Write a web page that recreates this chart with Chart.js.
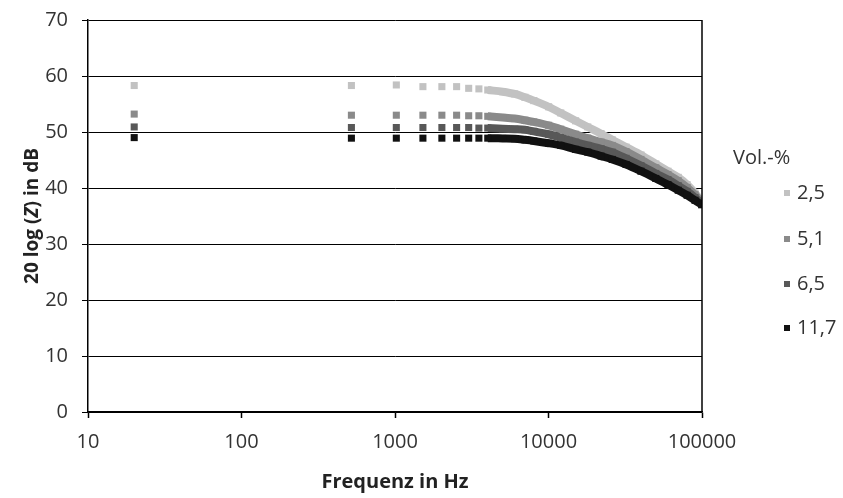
<!DOCTYPE html>
<html>
<head>
<meta charset="utf-8">
<script src="https://cdn.jsdelivr.net/npm/chart.js@4/dist/chart.umd.min.js"></script>
<style>
html,body{margin:0;padding:0;background:#fff;}
#wrap{width:843px;height:498px;}
</style>
</head>
<body>
<div id="wrap"><canvas id="c" width="843" height="498"></canvas></div>
<script>
// Frequencies (Hz)
const frequencies = [20, 520, 1020, 1520, 2020, 2520, 3020, 3520, 4020, 5020, 6020, 7020, 8020, 10020, 12020, 15020, 18020, 22020, 26020, 32020, 40020, 50020, 60020, 70020, 80020, 90020, 99520];
// 20 log(Z) in dB per Vol.-%
const vol25  = [58.3, 58.3, 58.4, 58.1, 58.1, 58.1, 57.8, 57.7, 57.5, 57.2, 56.8, 56.2, 55.6, 54.5, 53.4, 52.0, 50.9, 49.7, 48.6, 47.3, 45.9, 44.3, 43.0, 41.9, 40.6, 39.1, 37.5];
const vol51  = [53.2, 53.0, 53.0, 53.0, 53.0, 53.0, 52.9, 52.9, 52.8, 52.6, 52.4, 52.1, 51.8, 51.2, 50.5, 49.6, 48.9, 48.2, 47.6, 46.5, 45.1, 43.6, 42.4, 41.3, 40.1, 38.8, 37.3];
const vol65  = [50.9, 50.8, 50.8, 50.8, 50.8, 50.8, 50.8, 50.7, 50.7, 50.6, 50.5, 50.4, 50.1, 49.6, 49.0, 48.2, 47.6, 47.0, 46.4, 45.3, 44.0, 42.6, 41.5, 40.4, 39.4, 38.3, 37.2];
const vol117 = [49.0, 48.9, 48.9, 48.9, 48.9, 48.9, 48.9, 48.9, 48.9, 48.85, 48.8, 48.6, 48.4, 48.0, 47.6, 46.9, 46.4, 45.7, 45.1, 44.2, 43.0, 41.7, 40.6, 39.6, 38.7, 37.8, 37.0];
const seriesLabels = ['2,5', '5,1', '6,5', '11,7'];
const seriesValues = [vol25, vol51, vol65, vol117];
const seriesColors = ['#c2c2c2', '#8a8a8a', '#585858', '#111111'];
const xTicks = [10, 100, 1000, 10000, 100000];
const yTicks = [0, 10, 20, 30, 40, 50, 60, 70];
const legendTitle = 'Vol.-%';

const FONT = "'Open Sans', sans-serif";
const TEXT = '#333333';

const datasets = seriesValues.map((vals, i) => ({
  label: seriesLabels[i],
  data: frequencies.map((f, j) => ({x: f, y: vals[j]})),
  showLine: true,
  borderColor: seriesColors[i],
  backgroundColor: seriesColors[i],
  pointBackgroundColor: seriesColors[i],
  pointBorderWidth: 0,
  pointStyle: 'rect',
  pointRadius: 5,
  borderWidth: 8,
  borderCapStyle: 'butt',
  cubicInterpolationMode: 'monotone',
  order: seriesValues.length - i,
  segment: {
    borderColor: ctx => ctx.p0.parsed.x < 3600 ? 'rgba(0,0,0,0)' : undefined
  }
}));

const customDraw = {
  id: 'customDraw',
  afterDraw(chart) {
    const ctx = chart.ctx;
    const area = chart.chartArea;
    // right frame line
    ctx.save();
    ctx.strokeStyle = '#000';
    ctx.lineWidth = 1.5;
    ctx.beginPath();
    ctx.moveTo(area.right, area.top);
    ctx.lineTo(area.right, area.bottom);
    ctx.stroke();
    ctx.restore();

    // y axis title with italic Z
    ctx.save();
    const cy = (area.top + area.bottom) / 2;
    ctx.translate(33, cy);
    ctx.rotate(-Math.PI / 2);
    ctx.fillStyle = '#222';
    ctx.textBaseline = 'middle';
    const parts = [
      {t: '20 log (', f: "bold 19px " + FONT},
      {t: 'Z', f: "italic bold 19px " + FONT},
      {t: ') in dB', f: "bold 19px " + FONT}
    ];
    let total = 0;
    parts.forEach(p => { ctx.font = p.f; p.w = ctx.measureText(p.t).width; total += p.w; });
    let x = -total / 2;
    parts.forEach(p => { ctx.font = p.f; ctx.fillText(p.t, x, 0); x += p.w; });
    ctx.restore();

    // legend
    ctx.save();
    ctx.fillStyle = TEXT;
    ctx.font = "20px " + FONT;
    ctx.textBaseline = 'middle';
    ctx.textAlign = 'left';
    ctx.fillText(legendTitle, 733, 158);
    const ys = [193, 239, 284, 328];
    seriesLabels.forEach((lab, i) => {
      ctx.fillStyle = seriesColors[i];
      ctx.fillRect(784, ys[i] - 3, 6, 6);
      ctx.fillStyle = TEXT;
      ctx.fillText(lab, 797, ys[i]);
    });
    ctx.restore();
  }
};

new Chart(document.getElementById('c'), {
  type: 'scatter',
  data: {datasets},
  options: {
    responsive: false,
    animation: false,
    devicePixelRatio: 1,
    layout: {padding: {left: 0, top: 20, right: 141, bottom: 0}},
    plugins: {legend: {display: false}, tooltip: {enabled: false}},
    scales: {
      x: {
        type: 'logarithmic',
        min: 10,
        max: 100000,
        afterBuildTicks: s => { s.ticks = xTicks.map(v => ({value: v})); },
        afterFit: s => { s.height = 86; s.paddingLeft = 0; s.paddingRight = 0; },
        ticks: {
          callback: v => String(v),
          color: TEXT,
          font: {family: FONT, size: 20},
          padding: 12,
          maxRotation: 0,
          autoSkip: false
        },
        grid: {drawOnChartArea: false, drawTicks: true, tickLength: 6, tickColor: '#000', tickWidth: 1.5},
        border: {display: true, color: '#000', width: 1.5},
        title: {display: true, text: 'Frequenz in Hz', color: '#222', font: {family: FONT, size: 20, weight: 'bold'}, padding: {top: 0}}
      },
      y: {
        min: 0,
        max: 70,
        afterBuildTicks: s => { s.ticks = yTicks.map(v => ({value: v})); },
        afterFit: s => { s.width = 88; s.paddingTop = 0; s.paddingBottom = 0; },
        ticks: {
          color: TEXT,
          font: {family: FONT, size: 20},
          padding: 14
        },
        grid: {color: '#000', lineWidth: 1, drawTicks: true, tickLength: 6, tickColor: '#000'},
        border: {display: true, color: '#000', width: 1.5}
      }
    }
  },
  plugins: [customDraw]
});
</script>
</body>
</html>
